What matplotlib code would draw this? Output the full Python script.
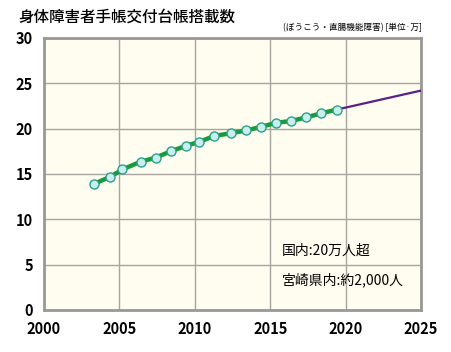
import matplotlib
matplotlib.use("Agg")
import matplotlib.pyplot as plt

plt.rcParams["font.family"] = ["Noto Sans CJK JP", "DejaVu Sans"]

# data (fiscal-year points)
years = [2003.3, 2004.4, 2005.2, 2006.4, 2007.4, 2008.4, 2009.4, 2010.3, 2011.3,
         2012.4, 2013.4, 2014.4, 2015.4, 2016.4, 2017.4, 2018.4, 2019.4]
counts = [13.9, 14.7, 15.5, 16.35, 16.8, 17.5, 18.1, 18.55, 19.2,
          19.5, 19.8, 20.2, 20.65, 20.85, 21.25, 21.7, 22.1]
proj_years = [2019.4, 2025]
proj_counts = [22.1, 24.2]

fig = plt.figure(figsize=(4.52, 3.52), dpi=100)
ax = fig.add_axes([44 / 452, 42 / 352, 377 / 452, 272 / 352])
ax.set_facecolor("#fffdef")

ax.plot(proj_years, proj_counts, color="#5a1f8a", linewidth=1.6, zorder=3)
ax.plot(years, counts, color="#1a9a3a", linewidth=3.2, zorder=4)
ax.plot(years, counts, "o", markersize=6.5, markerfacecolor="#c8eeee",
        markeredgecolor="#2aa08a", markeredgewidth=1.0, zorder=5)

ax.set_xlim(2000, 2025)
ax.set_ylim(0, 30)
ax.set_xticks(range(2000, 2026, 5))
ax.set_yticks(range(0, 31, 5))
ax.grid(True, color="#a8a4a0", linewidth=1.0)
ax.set_axisbelow(True)
for s in ax.spines.values():
    s.set_color("#9a9896")
    s.set_linewidth(2)
ax.tick_params(length=0, labelsize=10.5, pad=8)
for lab in ax.get_xticklabels() + ax.get_yticklabels():
    lab.set_fontweight("bold")

fig.text(18 / 452, 1 - 17 / 352, "身体障害者手帳交付台帳搭載数", fontsize=11.2,
         fontweight="medium", va="center", ha="left")
fig.text(422 / 452, 1 - 28 / 352, "(ぼうこう・直腸機能障害) [単位·万]", fontsize=6.2,
         va="center", ha="left" if False else "right")

ax.text(2015.8, 6.5, "国内:20万人超", fontsize=10, va="center", ha="left")
ax.text(2015.8, 3.3, "宮崎県内:約2,000人", fontsize=10, va="center", ha="left")

fig.savefig("out.png", dpi=100)
